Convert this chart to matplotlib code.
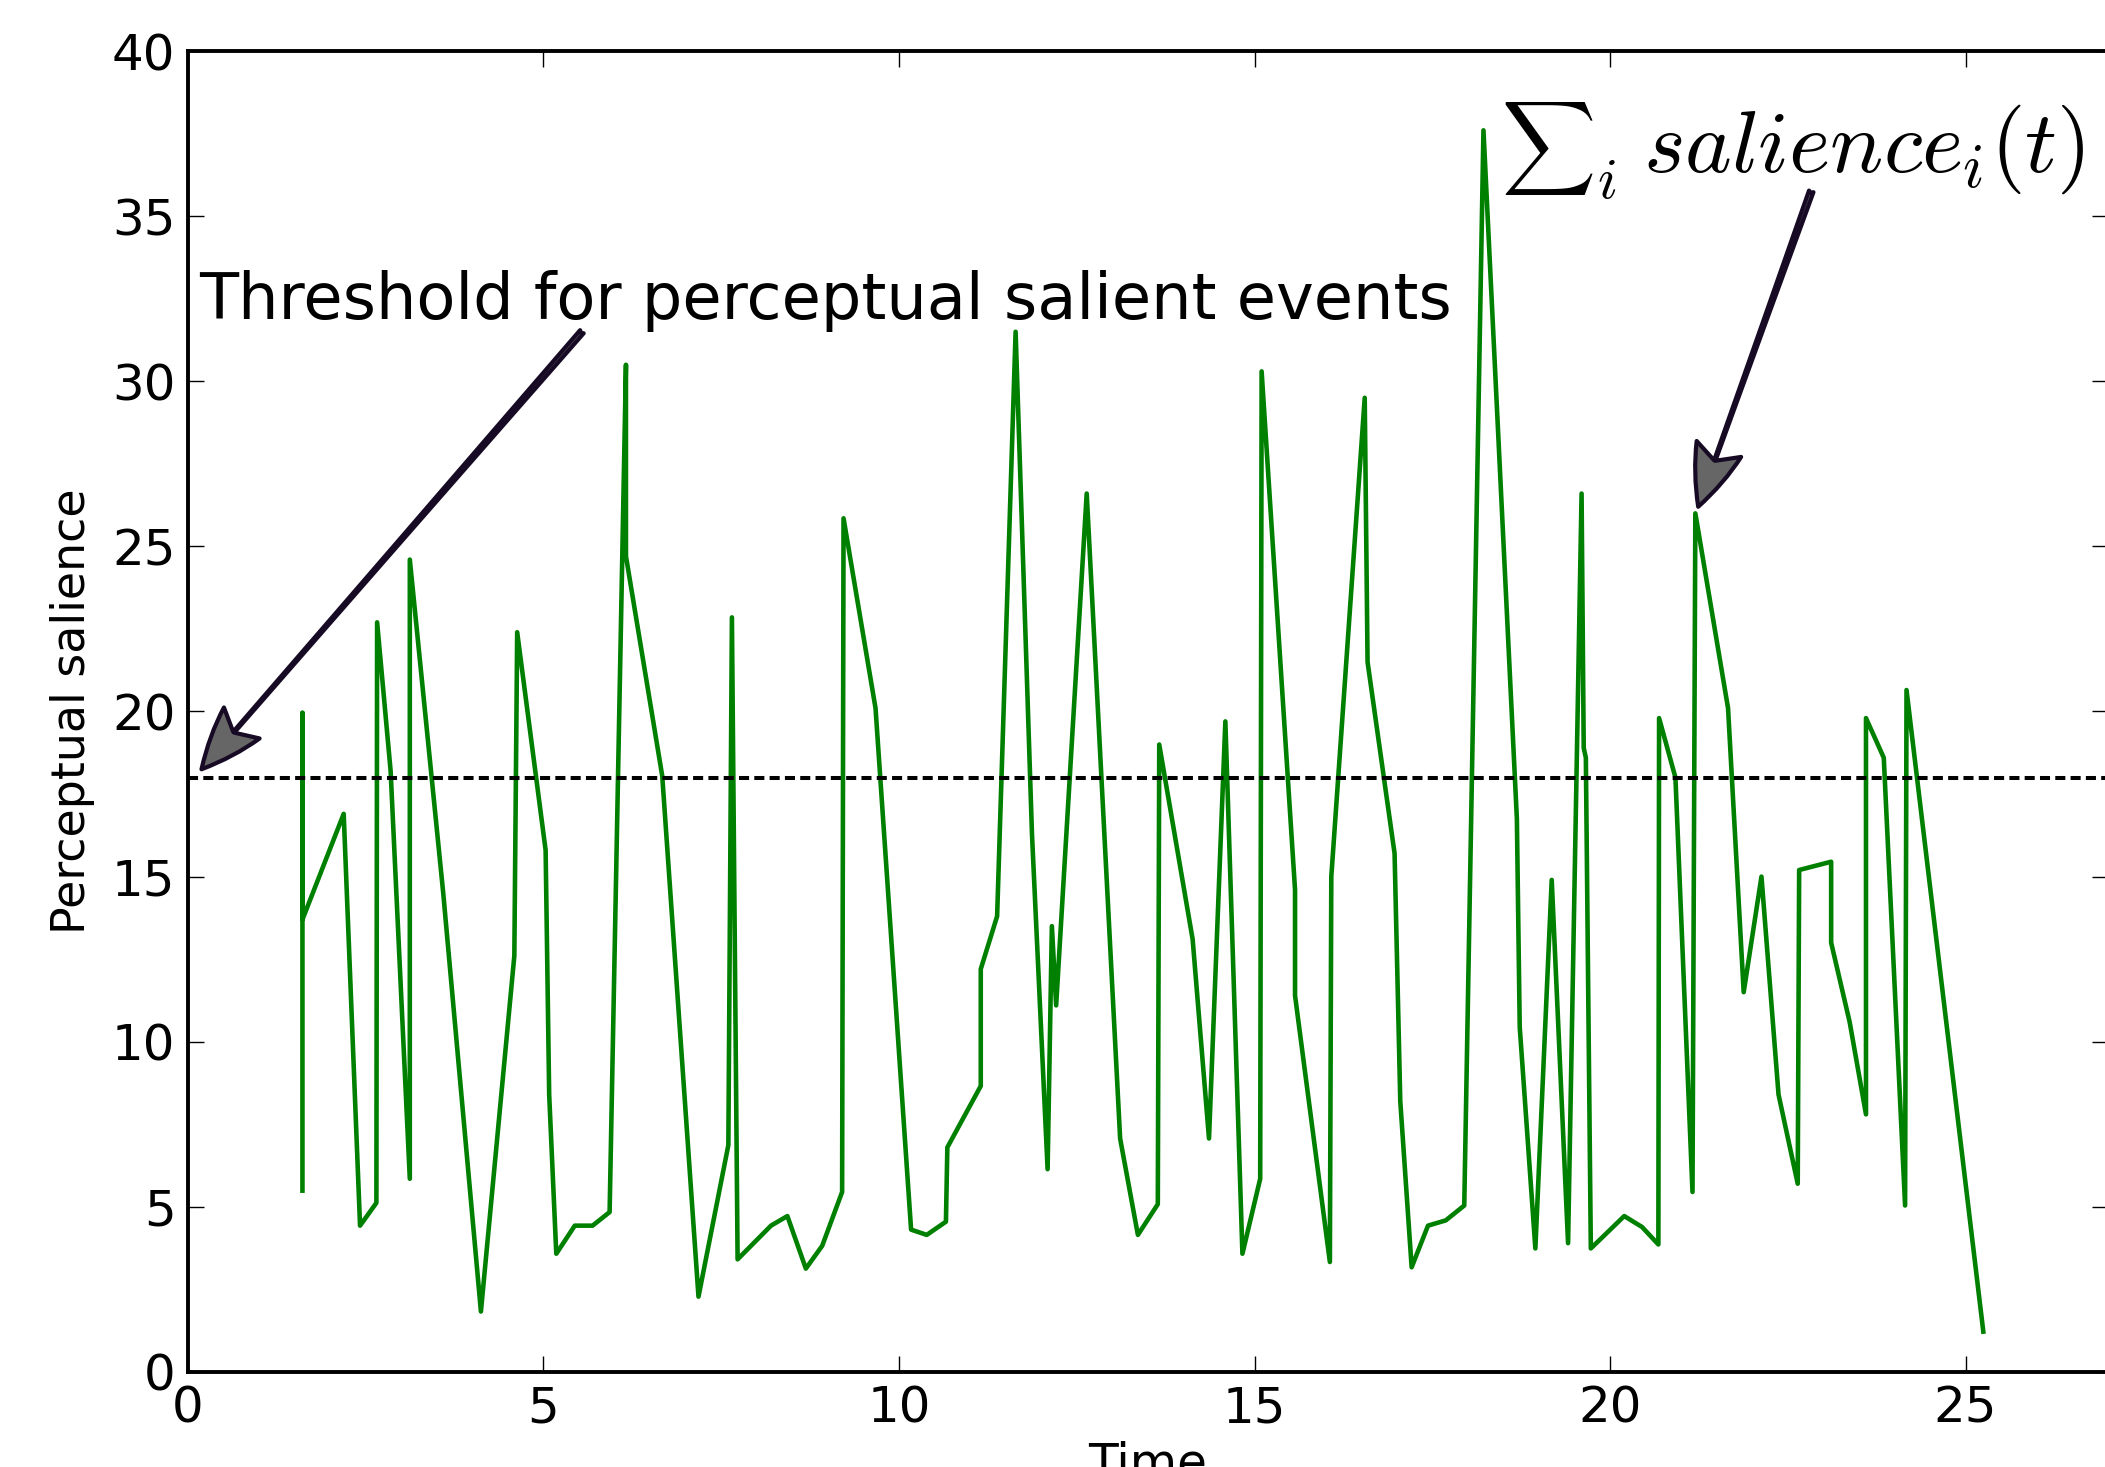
import matplotlib
matplotlib.use("Agg")
import matplotlib.pyplot as plt

# time (s) and summed salience
time = [1.61, 1.61, 1.61, 2.19, 2.42, 2.65, 2.66, 2.85, 3.12, 3.12, 3.59, 4.12,
        4.59, 4.63, 5.03, 5.08, 5.18, 5.44, 5.69, 5.93, 6.16, 6.16, 6.67, 7.18,
        7.60, 7.65, 7.73, 8.20, 8.43, 8.69, 8.92, 9.20, 9.22, 9.67, 10.17, 10.39,
        10.66, 10.68, 11.15, 11.15, 11.38, 11.64, 11.87, 12.09, 12.15, 12.21, 12.64,
        13.11, 13.36, 13.64, 13.66, 14.13, 14.36, 14.59, 14.83, 15.08, 15.10, 15.57,
        15.57, 16.06, 16.08, 16.55, 16.59, 16.97, 17.05, 17.21, 17.44, 17.69, 17.95,
        18.22, 18.69, 18.73, 18.95, 19.18, 19.41, 19.60, 19.63, 19.66, 19.73, 20.20,
        20.45, 20.68, 20.69, 20.92, 21.16, 21.20, 21.66, 21.88, 22.13, 22.37, 22.64,
        22.66, 23.11, 23.11, 23.37, 23.60, 23.60, 23.85, 24.15, 24.17, 25.25]
salience = [5.49, 19.96, 13.7, 16.9, 4.43, 5.12, 22.7, 18.2, 5.85, 24.6, 14.5, 1.83,
            12.6, 22.4, 15.8, 8.4, 3.58, 4.43, 4.43, 4.84, 30.5, 24.7, 18.05, 2.28,
            6.87, 22.85, 3.41, 4.43, 4.72, 3.13, 3.82, 5.45, 25.85, 20.1, 4.31, 4.15,
            4.55, 6.8, 8.66, 12.2, 13.8, 31.5, 16.3, 6.14, 13.5, 11.1, 26.6,
            7.07, 4.15, 5.08, 19.0, 13.1, 7.07, 19.7, 3.58, 5.85, 30.3, 14.6,
            11.4, 3.33, 15.0, 29.5, 21.5, 15.7, 8.2, 3.17, 4.43, 4.59, 5.04,
            37.6, 16.75, 10.45, 3.74, 14.9, 3.9, 26.6, 18.9, 18.6, 3.74, 4.72,
            4.39, 3.86, 19.8, 18.0, 5.45, 26.0, 20.1, 11.5, 15.0, 8.4, 5.7,
            15.2, 15.45, 13.0, 10.6, 7.8, 19.8, 18.6, 5.04, 20.65, 1.22]
threshold = 18

plt.rcParams["mathtext.fontset"] = "cm"

fig = plt.figure(figsize=(21.05, 14.67), dpi=100)
ax = fig.add_axes([0.0893, 0.0648, 0.912, 0.9004])

ax.plot(time, salience, color="green", lw=3.3)
ax.axhline(threshold, color="black", ls=(0, (2.5, 1.3)), lw=2.9)

ax.set_xlim(0, 27)
ax.set_ylim(0, 40)
ax.set_xticks([0, 5, 10, 15, 20, 25])
ax.set_yticks(range(0, 41, 5))
ax.tick_params(direction="in", top=True, right=True, length=11.5, width=1,
               labelsize=36, pad=9)
for s in ax.spines.values():
    s.set_linewidth(2.8)

ax.set_xlabel("Time", fontsize=35, labelpad=6)
ax.set_ylabel("Perceptual salience", fontsize=33, labelpad=12)

arrow = dict(arrowstyle="fancy,head_length=1.3,head_width=1.0,tail_width=0.1",
             fc="0.4", ec="#170a24", lw=3, mutation_scale=34, shrinkA=0, shrinkB=0)

ax.text(0.15, 31.9, "Threshold for perceptual salient events", fontsize=46,
        ha="left", va="baseline")
ax.annotate("", xy=(0.19, 18.25), xytext=(5.54, 31.5), arrowprops=arrow)

# sum sign, its index and the summand are placed as three pieces
ax.text(18.46, 36.4, r"$\sum$", fontsize=47, ha="left", va="baseline")
ax.text(19.81, 35.54, r"$i$", fontsize=42, ha="left", va="baseline")
ax.text(20.46, 36.33, r"$salience_i(t)$", fontsize=64, ha="left", va="baseline")
ax.annotate("", xy=(21.24, 26.2), xytext=(22.83, 35.75), arrowprops=arrow)

fig.savefig("out.png", dpi=100)
